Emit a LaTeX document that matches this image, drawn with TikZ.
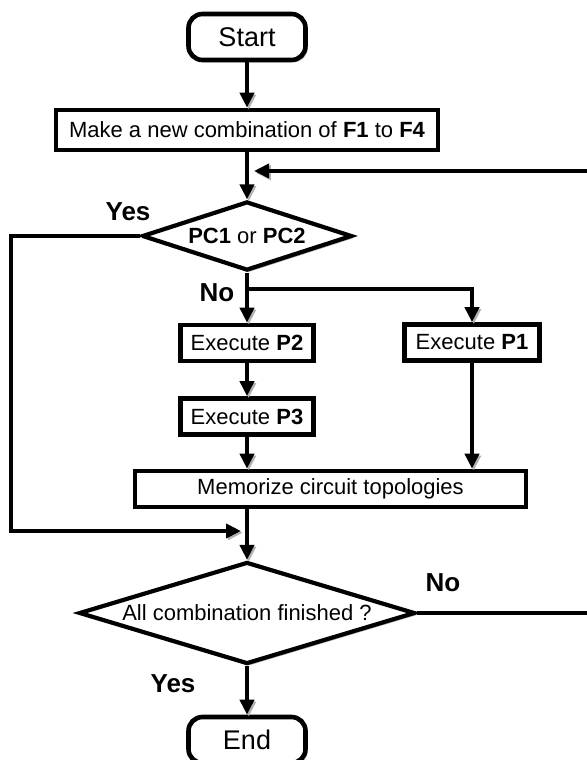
\documentclass[tikz,border=0pt]{standalone}
\usepackage{fontspec}
\setmainfont{Liberation Sans}
\usetikzlibrary{arrows.meta, shapes.geometric, shadows}

\tikzset{
  boxshadow/.style={drop shadow={shadow xshift=1.1pt, shadow yshift=-1.1pt, fill=gray!60, opacity=1}},
  terminal/.style={draw, line width=2.3pt, fill=white, rounded corners=7pt, minimum width=58.5pt, minimum height=23pt, inner sep=0pt, font=\fontsize{13.5}{16}\selectfont, boxshadow},
  process/.style={draw, line width=2.3pt, fill=white, minimum height=18pt, inner sep=0pt, font=\fontsize{11}{13}\selectfont, boxshadow},
  decision/.style={draw, diamond, line width=2.1pt, fill=white, inner sep=0pt, font=\fontsize{11}{13}\selectfont, boxshadow},
  answer/.style={font=\bfseries\fontsize{13}{15}\selectfont},
  flow/.style={line width=2pt, preaction={draw=gray!60, transform canvas={xshift=0.9pt, yshift=-0.9pt}}},
  arr/.style={flow, -{Triangle[length=7.5pt, width=7pt]}},
}

\begin{document}
\begin{tikzpicture}[x=0.5pt, y=-0.5pt]
    \useasboundingbox (0,0) rectangle (587,760);
    % nodes
    \node[terminal] (start) at (247,37) {Start};
    \node[process, minimum width=191pt, minimum height=20pt] (make) at (247,130) {Make a new combination of \textbf{F1} to \textbf{F4}};
    \node[decision, minimum width=105pt, minimum height=34.5pt, aspect=3.05] (chk) at (247,236) {\textbf{PC1} or \textbf{PC2}};
    \node[process, minimum width=66.5pt] (p2) at (247,343) {Execute \textbf{P2}};
    \node[process, minimum width=66.5pt] (p3) at (247,416.5) {Execute \textbf{P3}};
    \node[process, minimum width=67.5pt] (p1) at (472,342.5) {Execute \textbf{P1}};
    \node[process, minimum width=195.5pt] (mem) at (330.5,489) {Memorize circuit topologies};
    \node[decision, minimum width=168pt, minimum height=51pt, aspect=3.3] (fin) at (247,613) {All combination finished ?};
    \node[terminal] (end) at (247,740) {End};
    % labels
    \node[answer] (yes1) at (128,212) {Yes};
    \node[answer] (no1) at (217,293) {No};
    \node[answer] (no2) at (443,583) {No};
    \node[answer] (yes2) at (173,684) {Yes};
    % helper points
    \coordinate (split) at (247,289);
    \coordinate (join1) at (254,171);
    \coordinate (join2) at (241,531);
    \coordinate (leftC) at (11,531);
    \coordinate (loopR) at (620,171);
    % connectors
    \draw[arr] (start) -- (make);
    \draw[arr] (make) -- (chk);
    \draw[arr] (chk) -- (p2);
    \draw[arr] (split) -| (p1);
    \draw[arr] (p2) -- (p3);
    \draw[arr] (p3) -- (p3 |- mem.north);
    \draw[arr] (p1) -- (p1 |- mem.north);
    \draw[arr] (mem.south -| p3) -- (fin);
    \draw[arr] (fin) -- (end);
    \draw[arr] (chk.west) -| (leftC) -- (join2);
    \draw[arr] (fin.east) -| (loopR) -- (join1);
\end{tikzpicture}
\end{document}
